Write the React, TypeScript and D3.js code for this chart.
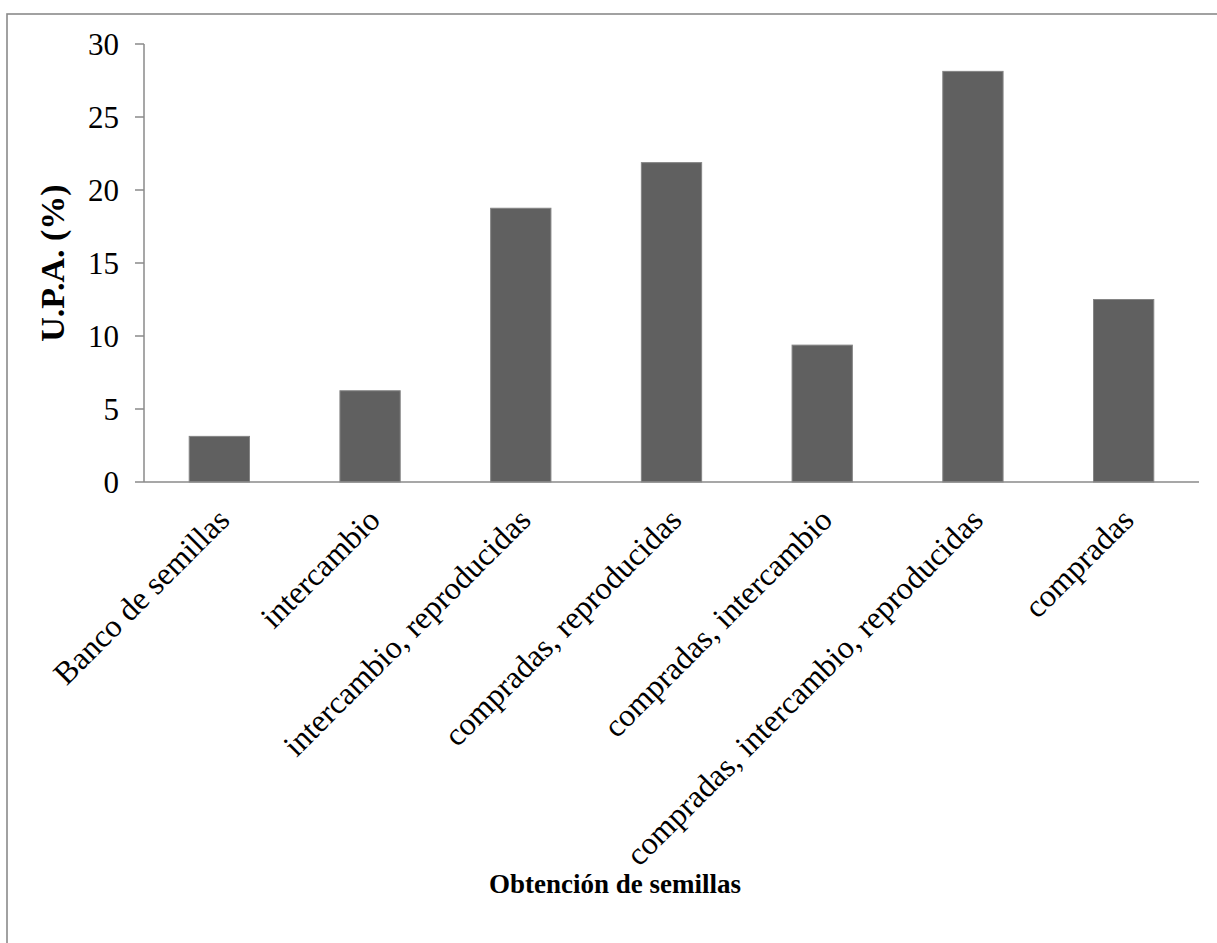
import React from "react";
import * as d3 from "d3";

const categories = [
  "Banco de semillas",
  "intercambio",
  "intercambio, reproducidas",
  "compradas, reproducidas",
  "compradas, intercambio",
  "compradas, intercambio, reproducidas",
  "compradas",
];
const upaPercent = [3.125, 6.25, 18.75, 21.875, 9.375, 28.125, 12.5];
const yTicks = [0, 5, 10, 15, 20, 25, 30];

const W = 1217;
const H = 943;
const plot = { left: 144, right: 1199, top: 44, bottom: 482 };
const FONT = "'Liberation Serif', 'Times New Roman', serif";

export default function App() {
  const x = d3
    .scaleBand<string>()
    .domain(categories)
    .range([plot.left, plot.right])
    .paddingInner(0.6)
    .paddingOuter(0.3);
  const y = d3.scaleLinear().domain([0, 30]).range([plot.bottom, plot.top]);

  return (
    <svg
      width={W}
      height={H}
      style={{ position: "absolute", left: 0, top: 0, background: "#fff" }}
      fontFamily={FONT}
    >
      <rect x={7} y={14} width={W + 20} height={H + 20} fill="#fff" stroke="#8a8a8a" strokeWidth={1.6} />

      {/* bars */}
      {categories.map((c, i) => (
        <rect
          key={c}
          x={x(c)!}
          y={y(upaPercent[i])}
          width={x.bandwidth()}
          height={y(0) - y(upaPercent[i])}
          fill="#606060"
          stroke="#858585"
          strokeWidth={1}
        />
      ))}

      {/* y axis */}
      <line x1={plot.left} x2={plot.left} y1={plot.top} y2={plot.bottom} stroke="#8a8a8a" strokeWidth={1.5} />
      {yTicks.map((t) => (
        <g key={t}>
          <line x1={plot.left - 9} x2={plot.left} y1={y(t)} y2={y(t)} stroke="#8a8a8a" strokeWidth={1.5} />
          <text x={plot.left - 25} y={y(t)} dy="0.35em" textAnchor="end" fontSize={31} fill="#000">
            {t}
          </text>
        </g>
      ))}

      {/* x axis */}
      <line x1={plot.left} x2={plot.right} y1={plot.bottom} y2={plot.bottom} stroke="#8a8a8a" strokeWidth={1.5} />
      {categories.map((c) => {
        const cx = x(c)! + x.bandwidth() / 2 - 4;
        const ty = plot.bottom + 24;
        return (
          <text
            key={c}
            x={cx}
            y={ty}
            textAnchor="end"
            fontSize={32}
            dy="0.7em"
            transform={`rotate(-45, ${cx}, ${ty})`}
            fill="#000"
          >
            {c}
          </text>
        );
      })}

      {/* axis titles */}
      <text
        x={0}
        y={0}
        transform={`translate(${64}, ${(plot.top + plot.bottom) / 2}) rotate(-90)`}
        textAnchor="middle"
        fontSize={34}
        fontWeight="bold"
        fill="#000"
      >
        U.P.A. (%)
      </text>
      <text x={615} y={893} textAnchor="middle" fontSize={27} fontWeight="bold" fill="#000">
        Obtención de semillas
      </text>
    </svg>
  );
}
